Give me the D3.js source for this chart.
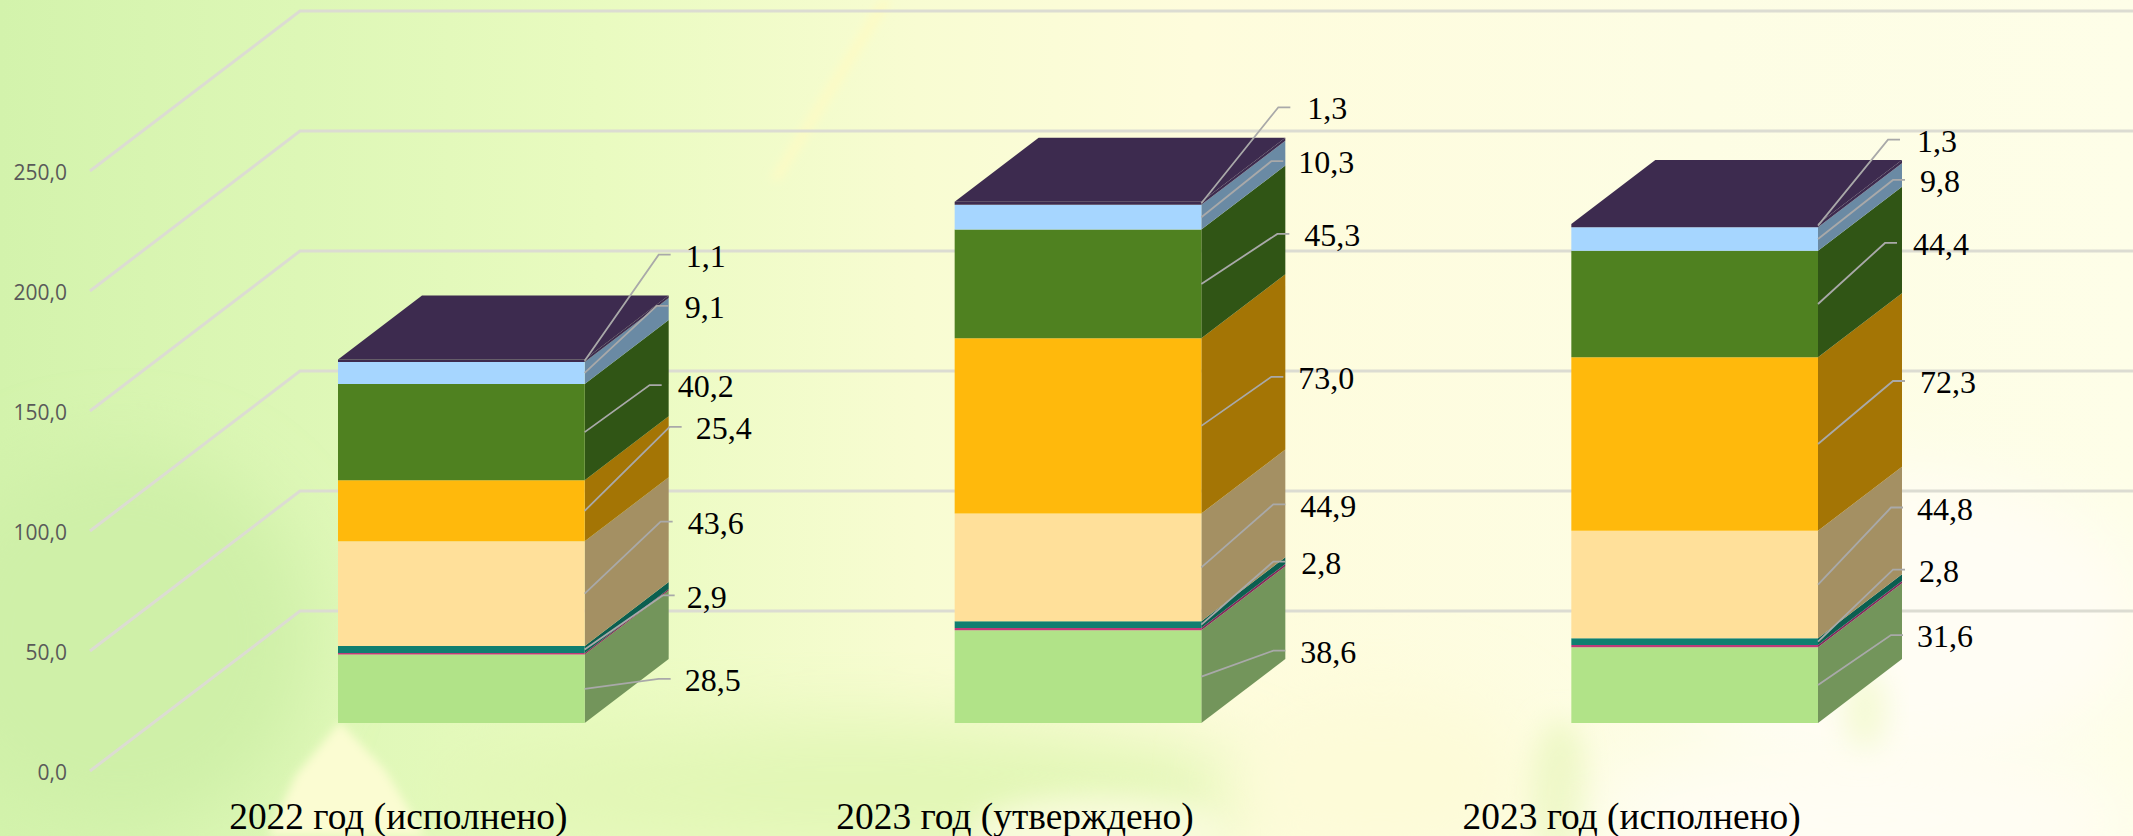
<!DOCTYPE html>
<html>
<head>
<meta charset="utf-8">
<script src="https://cdn.jsdelivr.net/npm/d3@7"></script>
<style>
html, body { margin: 0; padding: 0; background: #f4fbd0; }
svg { display: block; }
</style>
</head>
<body>
<svg id="chart"></svg>
<script>
// data, bottom of the stack first
const categories = ['2022 год (исполнено)', '2023 год (утверждено)', '2023 год (исполнено)'];
const seriesKeys = ['s1', 's2', 's3', 's4', 's5', 's6', 's7', 's8'];
const s1 = [28.5, 38.6, 31.6];
const s2 = [0.7, 1.0, 0.9]; // no label in the picture, estimated
const s3 = [2.9, 2.8, 2.8];
const s4 = [43.6, 44.9, 44.8];
const s5 = [25.4, 73.0, 72.3];
const s6 = [40.2, 45.3, 44.4];
const s7 = [9.1, 10.3, 9.8];
const s8 = [1.1, 1.3, 1.3];
const yTicks = [0, 50, 100, 150, 200, 250];

const dataset = categories.map((c, i) => ({
    category: c, s1: s1[i], s2: s2[i], s3: s3[i], s4: s4[i], s5: s5[i], s6: s6[i], s7: s7[i], s8: s8[i]
}));

// front / side colours per series
const frontColors = ['#b1e388', '#c03a78', '#0f7f70', '#ffe09a', '#ffb90c', '#4f8120', '#a6d6ff', '#3d2b4f'];
const sideColors = ['#73955b', '#84285a', '#0b5f50', '#a49063', '#a47505', '#305515', '#6a8aa4', '#3d2b4f'];

// hand placed leaders: [elbow dx, elbow dy, text dx from elbow] per category and series
const leaderLayout = [
    { s1: [74, -10, 54], s3: [78, -54, 44], s4: [76, -72, 55], s5: [85, -84, 54], s6: [65, -47, 56], s7: [72, -67, 48], s8: [74, -106, 47] },
    { s1: [72, -26, 55], s3: [72, -63, 48], s4: [72, -63, 55], s5: [70, -49, 55], s6: [76, -50, 55], s7: [70, -56, 55], s8: [77, -96, 49] },
    { s1: [73, -50, 54], s3: [75, -72, 46], s4: [73, -77, 54], s5: [75, -63, 55], s6: [67, -61, 56], s7: [75, -59, 47], s8: [70, -86, 49] }
];

const svgWidth = 2133;
const svgHeight = 836;

const svg = d3.select('#chart')
    .attr('width', svgWidth)
    .attr('height', svgHeight);

// Background
const defs = svg.append('defs');
const bg = defs.append('linearGradient').attr('id', 'bg');
[['0%', '#d3f3ac'], ['14%', '#ddf7b6'], ['28%', '#e9fbc0'], ['43%', '#f8fcd2'], ['56%', '#fefcdc'], ['80%', '#fdfde4'], ['100%', '#fefee8']]
    .forEach(s => bg.append('stop').attr('offset', s[0]).attr('stop-color', s[1]));
[['soft', 14], ['softer', 35], ['thin', 5]].forEach(f => {
    defs.append('filter').attr('id', f[0]).attr('x', '-50%').attr('y', '-50%').attr('width', '200%').attr('height', '200%')
        .append('feGaussianBlur').attr('stdDeviation', f[1]);
});

svg.append('rect').attr('width', svgWidth).attr('height', svgHeight).attr('fill', 'url(#bg)');
const blobs = svg.append('g');
const blob = (cx, cy, rx, ry, fill, filter) => blobs.append('ellipse')
    .attr('cx', cx).attr('cy', cy).attr('rx', rx).attr('ry', ry)
    .attr('fill', fill).attr('filter', `url(#${filter})`);
blob(120, 640, 190, 190, '#cff0a8', 'softer');
blob(850, 790, 420, 70, '#e2f7b6', 'softer');
blob(1380, 780, 150, 90, '#fdfbd8', 'softer');
blob(1100, 835, 130, 40, '#f8fbda', 'soft');
blob(1560, 790, 28, 70, '#eef8c6', 'soft');
blob(1900, 620, 240, 150, '#fffdf4', 'softer');
blob(1860, 820, 270, 70, '#fffdf4', 'softer');
blob(1865, 710, 22, 40, '#f5fad6', 'soft');
blobs.append('path')
    .attr('d', 'M340,722 L296,775 L268,836 L425,836 L385,770 Z')
    .attr('fill', '#fbfcd2')
    .attr('filter', 'url(#thin)');
blobs.append('path')
    .attr('d', 'M880,0 L892,0 L780,180 L770,180 Z')
    .attr('fill', '#fdfbc4')
    .attr('filter', 'url(#thin)');

// Scales
const xScale = d3.scaleBand()
    .domain(categories)
    .range([90, 1940])
    .paddingInner(0.6)
    .paddingOuter(0.3);

const yScale = d3.scaleLinear()
    .domain([0, 250])
    .range([771, 171]);

const depthX = d3.scaleLinear().domain([0, 1]).range([0, 210]);
const depthY = d3.scaleLinear().domain([0, 1]).range([0, -160]);

// x pixel, value, depth -> screen
const project = (x, v, z) => [x + depthX(z), yScale(v) + depthY(z)];
const outline = d3.line();

const barZ = [0.3, 0.7];

// Gridlines
const wallRight = svgWidth + 5;
svg.append('g').selectAll('path')
    .data(yTicks)
    .enter()
    .append('path')
    .attr('d', d => {
        const back = project(xScale.range()[0], d, 1);
        return outline([project(xScale.range()[0], d, 0), back, [wallRight, back[1]]]);
    })
    .attr('fill', 'none')
    .attr('stroke', '#dcdcd2')
    .attr('stroke-width', 3);

// Value axis
const comma = d3.formatLocale({ decimal: ',', thousands: ' ', grouping: [3], currency: ['', ''] }).format('.1f');
const axis = svg.append('g')
    .attr('transform', 'translate(67,2)')
    .call(d3.axisLeft(yScale).tickValues(yTicks).tickFormat(comma).tickSize(0).tickPadding(0));
axis.select('.domain').remove();
axis.selectAll('text')
    .attr('font-family', '"Open Sans"')
    .attr('font-size', 21)
    .attr('fill', '#595959');

// Stacked boxes
const series = d3.stack().keys(seriesKeys)(dataset);
const bars = svg.append('g');

categories.forEach((c, i) => {
    const x0 = xScale(c) ;
    const x1 = x0 + xScale.bandwidth();
    const g = bars.append('g');

    series.forEach((layer, k) => {
        const lo = layer[i][0];
        const hi = layer[i][1];
        // side face
        g.append('path')
            .attr('d', outline([project(x1, lo, barZ[0]), project(x1, hi, barZ[0]), project(x1, hi, barZ[1]), project(x1, lo, barZ[1])]) + 'Z')
            .attr('fill', sideColors[k]);
        // front face
        g.append('path')
            .attr('d', outline([project(x0, lo, barZ[0]), project(x0, hi, barZ[0]), project(x1, hi, barZ[0]), project(x1, lo, barZ[0])]) + 'Z')
            .attr('fill', frontColors[k]);
    });

    // top face takes the colour of the last series
    const top = series[series.length - 1][i][1];
    g.append('path')
        .attr('d', outline([project(x0, top, barZ[0]), project(x0, top, barZ[1]), project(x1, top, barZ[1]), project(x1, top, barZ[0])]) + 'Z')
        .attr('fill', frontColors[7]);
});

// Data labels with leaders
const labels = svg.append('g');
categories.forEach((c, i) => {
    const x1 = xScale(c) + xScale.bandwidth();
    series.forEach(layer => {
        const place = leaderLayout[i][layer.key];
        if (!place) return;
        const mid = (layer[i][0] + layer[i][1]) / 2;
        const start = project(x1, mid, barZ[0]);
        const elbow = [start[0] + place[0], start[1] + place[1]];
        labels.append('path')
            .attr('d', outline([start, elbow, [elbow[0] + 12, elbow[1]]]))
            .attr('fill', 'none')
            .attr('stroke', '#a9a9a9')
            .attr('stroke-width', 1.8);
        labels.append('text')
            .attr('x', elbow[0] + place[2])
            .attr('y', elbow[1] + 1)
            .attr('dy', '0.35em')
            .attr('text-anchor', 'middle')
            .attr('font-family', '"Liberation Serif"')
            .attr('font-size', 32)
            .attr('fill', '#000')
            .text(comma(dataset[i][layer.key]));
    });
});

// Category labels
svg.append('g').selectAll('text')
    .data(categories)
    .enter()
    .append('text')
    .attr('x', d => xScale(d) + xScale.bandwidth() / 2)
    .attr('y', 829)
    .attr('text-anchor', 'middle')
    .attr('font-family', '"Liberation Serif"')
    .attr('font-size', 37.4)
    .attr('fill', '#000')
    .text(d => d);
</script>
</body>
</html>
